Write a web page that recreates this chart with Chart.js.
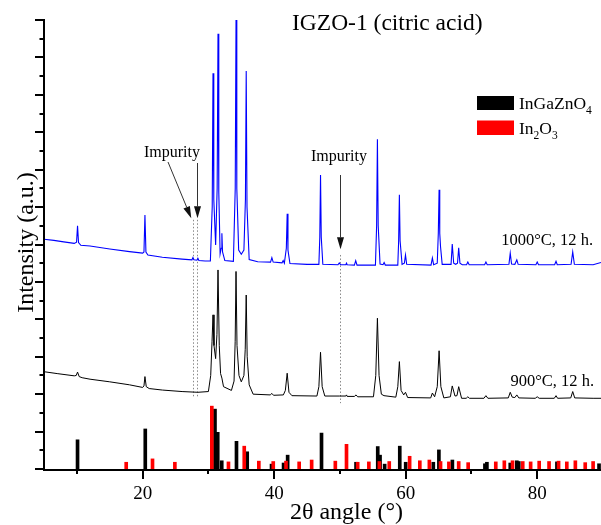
<!DOCTYPE html>
<html>
<head>
<meta charset="utf-8">
<script src="https://cdn.jsdelivr.net/npm/chart.js@4.4.1/dist/chart.umd.min.js"></script>
<style>
  html, body { margin: 0; padding: 0; background: #fff; }
  canvas { display: block; }
</style>
</head>
<body>
<canvas id="xrd" width="601" height="525"></canvas>
<script>
// XRD pattern, sample annealed at 1000 °C for 12 h (offset upward)
const angle1000 = [
  5.0, 6.5, 8.0, 9.6, 9.95, 10.1, 10.25, 10.6, 12.0, 15.0, 18.0, 20.0, 20.2, 20.35, 20.5, 20.8,
  23.0, 26.0, 27.5, 27.65, 27.8, 28.25, 28.4, 28.55, 29.5, 30.3,
  30.58, 30.7, 30.82, 31.1, 31.33, 31.46, 31.58, 31.78, 31.95, 32.05, 32.15, 32.5,
  33.8, 34.08, 34.2, 34.32, 34.6, 35.0, 35.4, 35.63, 35.75, 35.87, 36.2,
  37.5, 39.45, 39.65, 39.85, 41.2, 41.37, 41.55, 41.85, 41.98, 42.1, 42.4,
  45.0, 46.8, 46.94, 47.05, 47.16, 47.4, 49.7, 49.9, 50.1, 50.9, 51.0, 51.1,
  52.2, 52.4, 52.6, 55.4, 55.58, 55.7, 55.82, 56.1, 56.55, 56.72, 56.9,
  58.8, 58.93, 59.04, 59.15, 59.45, 59.8, 59.97, 60.15,
  63.85, 64.06, 64.25, 64.8, 64.96, 65.08, 65.18, 65.3, 65.55,
  66.9, 67.08, 67.3, 67.6, 67.88, 68.06, 68.25, 68.6,
  69.25, 69.45, 69.65, 72.0, 72.2, 72.4, 75.7, 75.9, 76.1, 76.6, 76.9, 77.1,
  79.8, 80.0, 80.2, 82.65, 82.86, 83.05, 85.15, 85.4, 85.65, 88.5, 89.7
];
const intensity1000 = [
  6.14, 6.11, 6.07, 6.03, 6.06, 6.50, 6.05, 5.98, 5.96, 5.88, 5.81, 5.77, 5.80, 6.79, 5.80, 5.72,
  5.66, 5.61, 5.59, 5.65, 5.59, 5.58, 5.63, 5.57, 5.56, 5.56,
  7.00, 10.58, 7.20, 5.99, 7.50, 11.63, 7.40, 5.75, 5.90, 6.30, 5.80, 5.57,
  5.55, 7.50, 12.00, 7.50, 5.85, 5.74, 5.85, 7.20, 10.64, 7.00, 5.60,
  5.54, 5.53, 5.65, 5.53, 5.51, 5.57, 5.50, 5.90, 6.82, 5.85, 5.49,
  5.47, 5.47, 6.20, 7.86, 6.20, 5.47, 5.46, 5.51, 5.46, 5.46, 5.50, 5.46,
  5.45, 5.57, 5.45, 5.45, 6.50, 8.81, 6.50, 5.48, 5.46, 5.52, 5.45,
  5.45, 6.10, 7.33, 6.10, 5.47, 5.50, 5.72, 5.47,
  5.45, 5.64, 5.46, 5.50, 6.30, 7.46, 6.30, 5.94, 5.47,
  5.47, 6.01, 5.50, 5.47, 5.50, 5.91, 5.50, 5.46,
  5.46, 5.53, 5.46, 5.46, 5.53, 5.46, 5.47, 5.77, 5.48, 5.47, 5.59, 5.47,
  5.46, 5.53, 5.46, 5.46, 5.55, 5.46, 5.47, 5.80, 5.47, 5.46, 5.52
];

// XRD pattern, sample annealed at 900 °C for 12 h
const angle900 = [
  5.0, 7.0, 9.6, 9.9, 10.1, 10.35, 10.8, 12.0, 15.0, 18.0, 20.0, 20.2, 20.35, 20.55, 21.0,
  23.0, 26.0, 28.4, 30.0, 30.35, 30.55, 30.7, 30.85, 31.1, 31.3, 31.46, 31.65, 31.85, 32.05, 32.3,
  33.5, 33.9, 34.07, 34.2, 34.35, 34.65, 35.0, 35.4, 35.6, 35.75, 35.9, 36.2, 36.8,
  39.4, 39.65, 39.9, 41.4, 41.7, 41.98, 42.25, 42.7, 46.5, 46.8, 47.05, 47.3, 47.7,
  49.9, 50.9, 51.0, 51.1, 52.2, 52.45, 52.7, 55.1, 55.45, 55.7, 55.95, 56.3, 56.7,
  58.5, 58.8, 59.04, 59.3, 59.7, 59.97, 60.3, 63.8, 64.06, 64.4, 64.8, 65.08, 65.35, 65.8,
  66.8, 67.08, 67.5, 67.8, 68.06, 68.5, 69.2, 69.45, 69.7, 71.9, 72.2, 72.5,
  75.6, 75.9, 76.2, 76.6, 76.9, 77.2, 79.7, 80.0, 80.3, 82.6, 82.86, 83.1,
  85.1, 85.4, 85.7, 88.5, 89.7
];
const intensity900 = [
  2.60, 2.55, 2.49, 2.50, 2.59, 2.47, 2.44, 2.40, 2.33, 2.25, 2.18, 2.22, 2.47, 2.20, 2.15,
  2.11, 2.07, 2.05, 2.07, 2.50, 3.40, 4.12, 3.30, 2.95, 3.60, 5.32, 3.30, 2.55, 2.43, 2.20,
  2.10, 2.35, 3.40, 5.28, 3.30, 2.50, 2.33, 2.50, 3.20, 4.65, 3.00, 2.25, 2.00,
  1.98, 2.02, 1.97, 1.98, 2.10, 2.56, 2.05, 1.96, 1.95, 2.20, 3.12, 2.20, 1.95,
  1.95, 1.95, 1.98, 1.94, 1.94, 1.98, 1.93, 1.93, 2.50, 4.03, 2.50, 2.00, 1.96,
  1.92, 2.20, 2.87, 2.10, 1.98, 2.05, 1.91, 1.90, 2.03, 1.93, 2.20, 3.16, 2.20, 1.90,
  1.93, 2.22, 1.95, 1.96, 2.20, 1.89, 1.89, 1.93, 1.89, 1.89, 1.96, 1.89,
  1.90, 2.05, 1.92, 1.91, 1.98, 1.90, 1.89, 1.93, 1.89, 1.89, 1.96, 1.89,
  1.90, 2.07, 1.90, 1.89, 1.89
];

// Reference stick pattern: InGaZnO4
const igzoRefAngle = [
  10.1, 20.4, 31.0, 31.42, 32.03, 34.27, 35.9, 39.6, 41.43, 42.05, 47.2, 52.45,
  55.75, 56.1, 56.8, 59.1, 60.0, 64.2, 65.05, 67.1, 72.05, 72.35, 75.9, 76.9, 77.2, 83.0, 89.4
];
const igzoRefInt = [
  0.78, 1.07, 1.60, 0.98, 0.22, 0.74, 0.46, 0.13, 0.16, 0.37, 0.96, 0.18,
  0.60, 0.37, 0.13, 0.61, 0.18, 0.18, 0.51, 0.24, 0.14, 0.18, 0.16, 0.22, 0.20, 0.19, 0.14
];

// Reference stick pattern: In2O3
const in2o3RefAngle = [
  17.5, 21.5, 24.9, 30.52, 33.05, 35.45, 37.67, 39.86, 41.8, 43.8, 45.7, 49.3, 51.0,
  52.7, 54.4, 56.0, 57.5, 60.6, 62.15, 63.6, 65.3, 66.57, 68.06, 69.5, 73.7, 75.0,
  76.25, 77.8, 79.0, 80.3, 81.8, 83.25, 84.5, 85.8, 87.3, 88.5
];
const in2o3RefInt = [
  0.18, 0.27, 0.18, 1.68, 0.19, 0.61, 0.21, 0.20, 0.21, 0.19, 0.24, 0.21, 0.66,
  0.18, 0.19, 0.20, 0.20, 0.34, 0.22, 0.24, 0.20, 0.19, 0.20, 0.17, 0.19, 0.22,
  0.22, 0.20, 0.19, 0.21, 0.20, 0.21, 0.19, 0.22, 0.17, 0.20
];

// Axis ticks
const xTickValues = [10, 20, 30, 40, 50, 60, 70, 80];
const xTickLabels = ['', '20', '', '40', '', '60', '', '80'];
const yTickValues = [0, 0.5, 1, 1.5, 2, 2.5, 3, 3.5, 4, 4.5, 5, 5.5, 6, 6.5, 7, 7.5, 8, 8.5, 9, 9.5, 10, 10.5, 11, 11.5, 12];

// Impurity reflections (2θ) and the vertical extent of their guide lines
const impurityAngles = [27.62, 28.29, 49.95];
const impurityLineTop = [6.66, 6.66, 5.72];
const impurityLineBottom = [1.93, 1.93, 1.76];

const toPoints = (xs, ys) => xs.map((v, i) => ({ x: v, y: ys[i] }));
const SERIF = '"Liberation Serif", "Times New Roman", serif';

function arrow(ctx, x1, y1, x2, y2) {
  const ang = Math.atan2(y2 - y1, x2 - x1);
  const len = 12, half = 3.5;
  const bx = x2 - len * Math.cos(ang), by = y2 - len * Math.sin(ang);
  ctx.beginPath();
  ctx.moveTo(x1, y1);
  ctx.lineTo(bx, by);
  ctx.stroke();
  ctx.beginPath();
  ctx.moveTo(x2, y2);
  ctx.lineTo(bx + half * Math.sin(ang), by - half * Math.cos(ang));
  ctx.lineTo(bx - half * Math.sin(ang), by + half * Math.cos(ang));
  ctx.closePath();
  ctx.fill();
}

function subText(ctx, parts, x, y, size, subSize) {
  let cx = x;
  parts.forEach(([txt, sub]) => {
    ctx.font = (sub ? subSize : size) + 'px ' + SERIF;
    ctx.fillText(txt, cx, sub ? y + 5 : y);
    cx += ctx.measureText(txt).width;
  });
}

// Guide lines behind the curves
const impurityGuides = {
  id: 'impurityGuides',
  beforeDatasetsDraw(chart) {
    const { ctx, scales: { x, y } } = chart;
    ctx.save();
    ctx.strokeStyle = '#8a8a8a';
    ctx.lineWidth = 1;
    ctx.setLineDash([1.5, 2]);
    impurityAngles.forEach((a, i) => {
      const px = Math.round(x.getPixelForValue(a)) + 0.5;
      ctx.beginPath();
      ctx.moveTo(px, y.getPixelForValue(impurityLineTop[i]));
      ctx.lineTo(px, y.getPixelForValue(impurityLineBottom[i]));
      ctx.stroke();
    });
    ctx.restore();
  }
};

// Axes, labels, legend and annotations
const decorations = {
  id: 'decorations',
  afterDraw(chart) {
    const { ctx, chartArea: a, scales: { x, y } } = chart;
    const ds = chart.data.datasets;
    ctx.save();

    // axis lines
    ctx.strokeStyle = '#000';
    ctx.lineWidth = 2;
    ctx.beginPath();
    ctx.moveTo(a.left, a.top - 1);
    ctx.lineTo(a.left, a.bottom + 1);
    ctx.lineTo(a.right + 2, a.bottom + 1);
    ctx.stroke();

    // x ticks (outward)
    xTickValues.forEach((v, i) => {
      const px = Math.round(x.getPixelForValue(v));
      const len = xTickLabels[i] ? 10 : 5;
      ctx.beginPath();
      ctx.moveTo(px, a.bottom);
      ctx.lineTo(px, a.bottom + len);
      ctx.stroke();
    });
    // y ticks (outward)
    yTickValues.forEach(v => {
      const py = Math.round(y.getPixelForValue(v));
      const len = Number.isInteger(v) ? 9 : 4.5;
      ctx.beginPath();
      ctx.moveTo(a.left, py);
      ctx.lineTo(a.left - len, py);
      ctx.stroke();
    });

    // x tick labels
    ctx.fillStyle = '#000';
    ctx.font = '19px ' + SERIF;
    ctx.textAlign = 'center';
    ctx.textBaseline = 'alphabetic';
    xTickValues.forEach((v, i) => {
      if (xTickLabels[i]) ctx.fillText(xTickLabels[i], x.getPixelForValue(v), 499);
    });

    // axis titles
    ctx.font = '24px ' + SERIF;
    ctx.fillText('2\u03B8 angle (\u00B0)', 346.5, 519);
    ctx.save();
    ctx.translate(33, 242.5);
    ctx.rotate(-Math.PI / 2);
    ctx.fillText('Intensity (a.u.)', 0, 0);
    ctx.restore();

    // chart title
    ctx.textAlign = 'left';
    ctx.font = '23.5px ' + SERIF;
    ctx.fillText('IGZO-1 (citric acid)', 292, 30);

    // series labels
    ctx.textAlign = 'right';
    ctx.font = '16.5px ' + SERIF;
    ctx.fillText(ds[0].label, 593, 245);
    ctx.fillText(ds[1].label, 594, 386);

    // legend for the reference patterns
    ctx.textAlign = 'left';
    ctx.fillStyle = ds[2].backgroundColor;
    ctx.fillRect(477, 96, 37, 14);
    ctx.fillStyle = ds[3].backgroundColor;
    ctx.fillRect(477, 120.5, 37, 14.5);
    ctx.fillStyle = '#000';
    subText(ctx, [['InGaZnO', 0], ['4', 1]], 519, 109, 17.5, 11.5);
    subText(ctx, [['In', 0], ['2', 1], ['O', 0], ['3', 1]], 519, 134, 17.5, 11.5);

    // impurity annotations
    ctx.font = '16px ' + SERIF;
    ctx.fillText('Impurity', 144, 157);
    ctx.fillText('Impurity', 311, 161);
    ctx.strokeStyle = '#333';
    ctx.fillStyle = '#111';
    ctx.lineWidth = 1;
    const tipL = y.getPixelForValue(6.70), tipR = y.getPixelForValue(5.87);
    arrow(ctx, 168, 162, x.getPixelForValue(impurityAngles[0]) - 1.5, tipL);
    const p1 = Math.round(x.getPixelForValue(impurityAngles[1])) + 0.5;
    arrow(ctx, p1, 163, p1, tipL);
    const p2 = Math.round(x.getPixelForValue(impurityAngles[2])) + 0.5;
    arrow(ctx, p2, 175, p2, tipR);

    ctx.restore();
  }
};

new Chart(document.getElementById('xrd'), {
  type: 'line',
  data: {
    datasets: [
      {
        type: 'line', label: '1000\u00B0C, 12 h.',
        data: toPoints(angle1000, intensity1000),
        borderColor: '#0000ff', borderWidth: 1.1, pointRadius: 0, tension: 0, order: 2
      },
      {
        type: 'line', label: '900\u00B0C, 12 h.',
        data: toPoints(angle900, intensity900),
        borderColor: '#000000', borderWidth: 1, pointRadius: 0, tension: 0, order: 2
      },
      {
        type: 'bar', label: 'InGaZnO4',
        data: toPoints(igzoRefAngle, igzoRefInt),
        backgroundColor: '#000000', borderWidth: 0, barThickness: 3, grouped: false, order: 1
      },
      {
        type: 'bar', label: 'In2O3',
        data: toPoints(in2o3RefAngle, in2o3RefInt),
        backgroundColor: '#ff0000', borderWidth: 0, barThickness: 3, grouped: false, order: 0
      }
    ]
  },
  options: {
    responsive: false,
    animation: false,
    events: [],
    layout: { padding: { top: 20, left: 0, right: 0, bottom: 0 } },
    scales: {
      x: {
        type: 'linear', min: 5, max: 89.7, offset: false,
        grid: { display: false, drawTicks: false },
        border: { display: false },
        ticks: { display: false },
        afterFit: s => { s.height = 56; }
      },
      y: {
        type: 'linear', min: 0, max: 12,
        grid: { display: false, drawTicks: false },
        border: { display: false },
        ticks: { display: false },
        afterFit: s => { s.width = 44; }
      }
    },
    plugins: {
      legend: { display: false },
      tooltip: { enabled: false },
      title: { display: false }
    }
  },
  plugins: [impurityGuides, decorations]
});
</script>
</body>
</html>
